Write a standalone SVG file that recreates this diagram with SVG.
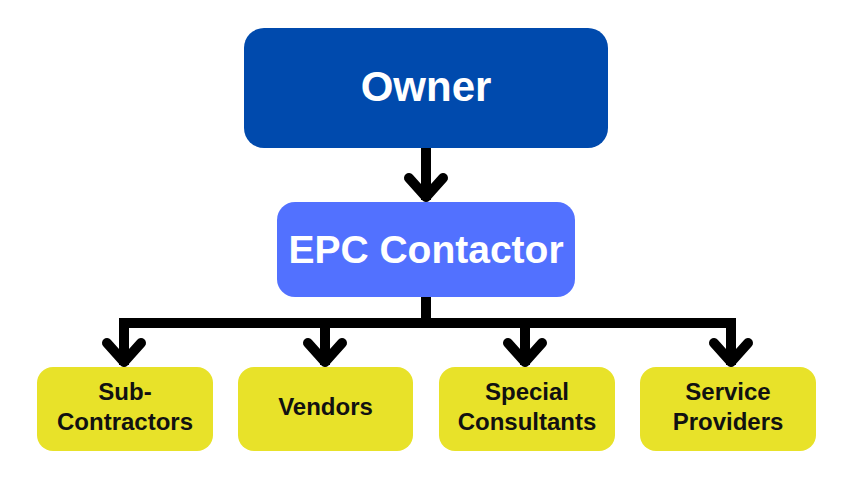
<svg xmlns="http://www.w3.org/2000/svg" width="852" height="480" viewBox="0 0 852 480">
<style>
.t{font-family:"Liberation Sans",Arial,sans-serif;font-weight:bold;text-anchor:middle}
.w{fill:#ffffff}
.k{fill:#111111;font-size:24px}
.y{fill:#E8E229}
.c{fill:none;stroke:#000;stroke-width:10;stroke-linecap:square;stroke-linejoin:miter}
.h{fill:none;stroke:#000;stroke-width:10;stroke-linecap:round;stroke-linejoin:round}
</style>
<rect width="852" height="480" fill="#ffffff"/>
<g id="connectors">
<line class="c" x1="426" y1="150" x2="426" y2="195"/>
<polyline class="h" points="409,178 426,197 443,178"/>
<polyline class="c" points="426,298 426,323"/>
<polyline class="c" points="124,360 124,323 731,323 731,360"/>
<line class="c" x1="325" y1="323" x2="325" y2="360"/>
<line class="c" x1="525" y1="323" x2="525" y2="360"/>
<polyline class="h" points="107,343 124,362 141,343"/>
<polyline class="h" points="308,343 325,362 342,343"/>
<polyline class="h" points="508,343 525,362 542,343"/>
<polyline class="h" points="714,343 731,362 748,343"/>
</g>
<g id="owner">
<rect x="244" y="28" width="364" height="120" rx="20" fill="#004AAD"/>
<text class="t w" x="426" y="101" font-size="42">Owner</text>
</g>
<g id="epc">
<rect x="277" y="202" width="298" height="95" rx="18" fill="#5271FF"/>
<text class="t w" x="426" y="263" font-size="39">EPC Contactor</text>
</g>
<g id="subcontractors">
<rect class="y" x="37" y="367" width="176" height="84" rx="16"/>
<text class="t k" x="125" y="400">Sub-</text>
<text class="t k" x="125" y="430">Contractors</text>
</g>
<g id="vendors">
<rect class="y" x="238" y="367" width="175" height="84" rx="16"/>
<text class="t k" x="325.5" y="415">Vendors</text>
</g>
<g id="special">
<rect class="y" x="439" y="367" width="176" height="84" rx="16"/>
<text class="t k" x="527" y="400">Special</text>
<text class="t k" x="527" y="430">Consultants</text>
</g>
<g id="service">
<rect class="y" x="640" y="367" width="176" height="84" rx="16"/>
<text class="t k" x="728" y="400">Service</text>
<text class="t k" x="728" y="430">Providers</text>
</g>
</svg>
